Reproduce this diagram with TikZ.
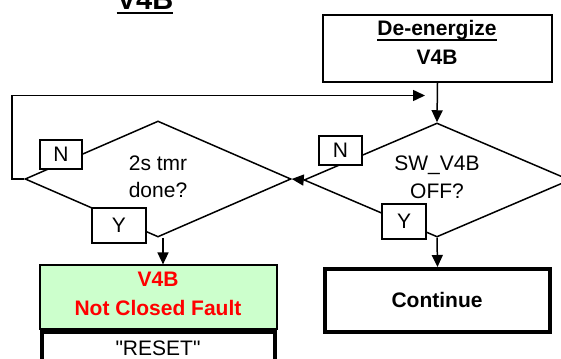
\documentclass[tikz,border=0pt]{standalone}
\usepackage{fontspec}
\setmainfont[Ligatures=TeXOff]{Liberation Sans}
\usetikzlibrary{shapes.geometric,arrows.meta}
\definecolor{faultgreen}{HTML}{CCFFCC}
\begin{document}
\begin{tikzpicture}[x=1pt,y=-1pt,
  ln/.style={line width=1.5pt},
  arr/.style={ln,line join=miter,-{Triangle[length=12pt,width=11pt]}},
  txt/.style={font=\fontsize{21}{25}\selectfont, inner sep=0pt, anchor=base},
  btxt/.style={txt,font=\fontsize{21}{25}\selectfont\bfseries},
  dia/.style={diamond, draw, ln, inner sep=0pt, minimum width=266pt},
  lab/.style={draw, ln, fill=white, inner sep=0pt, font=\fontsize{21}{25}\selectfont},
  thickbox/.style={draw, line width=4pt, inner sep=0pt},
  plainbox/.style={draw, ln, inner sep=0pt},
]
\useasboundingbox (0,0) rectangle (561,358);

% title
\node[txt, font=\fontsize{29}{31}\selectfont\bfseries] (title) at (145,10) {V4B};
\draw[line width=2pt] ([yshift=-3pt]title.base west) -- ([yshift=-3pt]title.base east);

% de-energize box
\node[plainbox, minimum width=229pt, minimum height=67pt] (de) at (437.5,48.5) {};
\node[btxt] (de1) at (437,36) {De-energize};
\draw[line width=1.3pt] ([yshift=-4pt]de1.base west) -- ([yshift=-4pt]de1.base east);
\node[btxt] (de2) at (437,65) {V4B};

% decisions
\node[dia, minimum height=116pt] (d1) at (158,179) {};
\node[dia, minimum height=114pt] (d2) at (437,180) {};
\node[txt] (d1a) at (158,170) {2s tmr};
\node[txt] (d1b) at (158,197) {done?};
\node[txt] (d2a) at (437,170) {SW\_V4B};
\node[txt] (d2b) at (437,198) {OFF?};

% N / Y labels
\node[lab, minimum width=42pt, minimum height=29pt] (n1) at (61,154.5) {N};
\node[lab, minimum width=43pt, minimum height=29pt] (n2) at (340.5,150.5) {N};
\node[lab, minimum width=54pt, minimum height=35pt] (y1) at (119,225.5) {Y};
\node[lab, minimum width=44pt, minimum height=35pt] (y2) at (404,221.5) {Y};

% fault box
\node[draw, line width=1.2pt, fill=faultgreen, inner sep=0pt, minimum width=237pt, minimum height=64pt] (fault) at (158.5,297) {};
\node[btxt, text=red] (f1) at (158,286) {V4B};
\node[btxt, text=red] (f2) at (158,315) {Not Closed Fault};

% reset box
\node[thickbox, minimum width=233pt, minimum height=33pt] (reset) at (158.2,348.5) {};
\node[txt] (r1) at (158,355) {"RESET"};

% continue box
\node[thickbox, minimum width=225pt, minimum height=63pt] (cont) at (437.5,300.5) {};
\node[btxt] (c1) at (437,307) {Continue};

% connectors
\coordinate (lp) at (425,95.5);
\coordinate (lc) at (12,95.5);
\draw[arr] (de.south) -- (d2.north);
\draw[arr] (d2.west) -- (d1.east);
\draw[arr] ([xshift=5pt]d1.south) -- ([xshift=5pt]d1.south |- fault.north);
\draw[arr] (d2.south) -- (cont.north);
\draw[arr] (d1.west) -| (lc) -- (lp);
\end{tikzpicture}
\end{document}
